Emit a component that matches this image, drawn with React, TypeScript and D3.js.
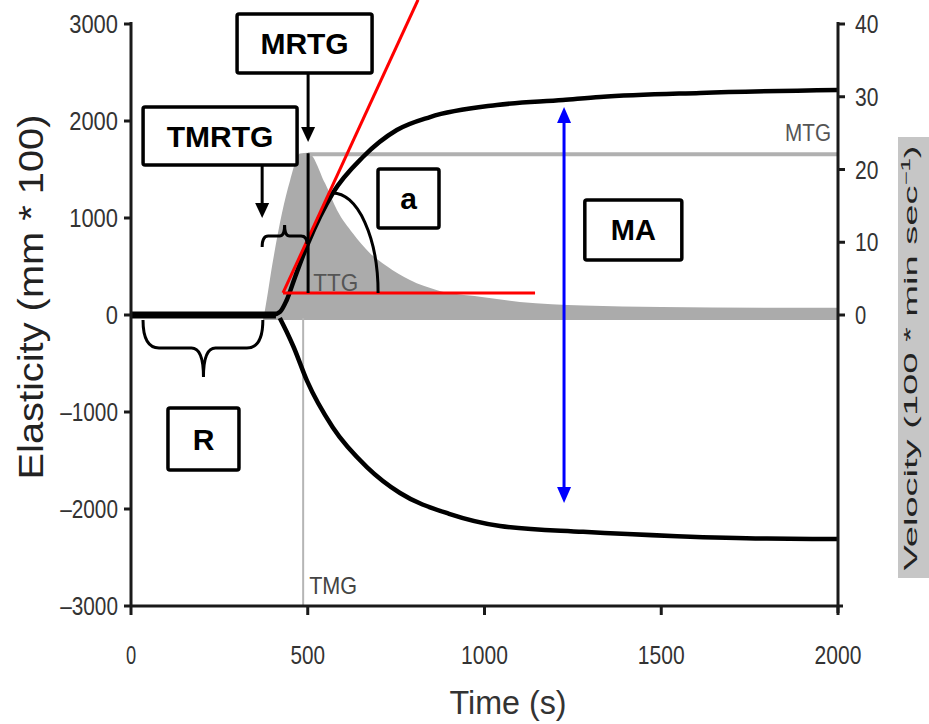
import React from 'react';
import * as d3 from 'd3';

const W = 929, H = 724;

// tick labels
const timeTicks = [0, 500, 1000, 1500, 2000];
const elasticityTicks = [3000, 2000, 1000, 0, -1000, -2000, -3000];
const velocityTicks = [0, 10, 20, 30, 40];

// elasticity curves (upper / lower)
const upperTime = [0, 400, 421, 440, 465, 501, 571, 656, 752, 846, 1035, 1222, 1327, 1610, 2000];
const upperElasticity = [0, 0, 30, 150, 400, 742, 1258, 1629, 1907, 2041, 2165, 2216, 2247, 2289, 2320];
const lowerTime = [421, 440, 460, 498, 571, 668, 761, 900, 1044, 1279, 1545, 1799, 2000];
const lowerElasticity = [-30, -170, -330, -680, -1160, -1570, -1835, -2050, -2175, -2235, -2280, -2305, -2309];

// velocity (gray area)
const velocityTime = [373, 379, 400, 427, 450, 478, 501, 549, 583, 628, 676, 724, 789, 866, 987, 1100, 1280, 1500, 1800, 2000];
const velocityValues = [-0.7, 0.7, 7, 14, 18.5, 22.2, 22.3, 18.1, 14.4, 11.2, 8.5, 6.7, 4.8, 3.4, 2.5, 1.8, 1.3, 1.1, 1.0, 1.0];
const velocityBase = -0.7;
const MTG = 22.1;
const TMG = 487;

// annotation anchors (data coords)
const tangentStart = [430, 227];
const tangentEnd = [812, 3250];
const ttgEnd = 1143;
const mrtgTime = 501;
const arcTop = [571, 1258];
const arcRight = [699, 227];
const maTime = 1225;
const maTop = 2144;
const maBottom = -1938;

const boxes = [
  { label: 'MRTG', t: 491, e: 2799, w: 135, h: 59, fs: 30 },
  { label: 'TMRTG', t: 252, e: 1845, w: 154, h: 58, fs: 30 },
  { label: 'a', t: 785, e: 1201, w: 61, h: 59, fs: 30 },
  { label: 'MA', t: 1421, e: 876, w: 97, h: 60, fs: 29 },
  { label: 'R', t: 205, e: -1278, w: 71, h: 62, fs: 30 },
];

const sans = "'Liberation Sans', Arial, sans-serif";

function tickLen(s: string) {
  let w = 0;
  for (const c of s) w += c === '\u2013' ? 9 : 12.2;
  return w;
}

export default function App() {
  const x = d3.scaleLinear().domain([0, 2000]).range([131, 838]);
  const yE = d3.scaleLinear().domain([-3000, 3000]).range([606, 24]);
  const yV = d3.scaleLinear().domain([-40, 40]).range([606, 24]);

  const upper = upperTime.map((t, i) => [t, upperElasticity[i]] as [number, number]);
  const lower = lowerTime.map((t, i) => [t, lowerElasticity[i]] as [number, number]);
  const vel = velocityTime.map((t, i) => [t, velocityValues[i]] as [number, number]);

  const eLine = d3.line<[number, number]>().x(d => x(d[0])).y(d => yE(d[1])).curve(d3.curveMonotoneX);
  const vArea = d3.area<[number, number]>().x(d => x(d[0])).y0(yV(velocityBase)).y1(d => yV(d[1])).curve(d3.curveMonotoneX);

  const x0 = x(0), x1 = x(2000), yTop = yE(3000), yBot = yE(-3000);

  const bL = x(371), bR = x(498), bY = yE(814), bM = (bL + bR) / 2;
  const smallBrace = `M${bL},${bY + 11} Q${bL},${bY} ${bL + 6},${bY} L${bM - 5},${bY} Q${bM},${bY} ${bM},${bY - 11} Q${bM},${bY} ${bM + 5},${bY} L${bR - 6},${bY} Q${bR},${bY} ${bR},${bY + 8}`;
  const rL = x(34), rR = x(373), rTop = yE(-52), rMid = yE(-340), rPt = yE(-640), rM = x(205);
  const rBrace = `M${rL},${rTop} Q${rL},${rMid} ${rL + 16},${rMid} L${rM - 12},${rMid} Q${rM},${rMid} ${rM},${rPt} Q${rM},${rMid} ${rM + 12},${rMid} L${rR - 16},${rMid} Q${rR},${rMid} ${rR},${rTop}`;

  const arcRx = x(arcRight[0]) - x(arcTop[0]);
  const arcRy = yE(arcRight[1]) - yE(arcTop[1]);
  const arcPath = `M${x(arcTop[0])},${yE(arcTop[1])} A${arcRx},${arcRy} 0 0 1 ${x(arcRight[0])},${yE(arcRight[1])}`;

  const arrowDown = (ax: number, y1: number, y2: number, color: string, key: string, hw = 7, hl = 15) => (
    <g key={key}>
      <line x1={ax} x2={ax} y1={y1} y2={y2 - hl + 2} stroke={color} strokeWidth={3} />
      <path d={`M${ax - hw},${y2 - hl} L${ax + hw},${y2 - hl} L${ax},${y2} Z`} fill={color} />
    </g>
  );

  const mrtgBox = boxes[0], tmrtgBox = boxes[1];
  const maX = x(maTime);

  const eLabel = (v: number) => (v < 0 ? '\u2013' + Math.abs(v) : String(v));

  return (
    <svg width={W} height={H} style={{ position: 'absolute', left: 0, top: 0, background: '#fff' }}>
      <rect width={W} height={H} fill="#fff" />
      {/* velocity gray area */}
      <path d={vArea(vel) || ''} fill="#ababab" />
      <line x1={x(mrtgTime)} x2={x1} y1={yV(MTG)} y2={yV(MTG)} stroke="#b0b0b0" strokeWidth={4} />
      <text x={x1 - 7} y={yV(MTG) - 13} fontFamily={sans} fontSize={23} fill="#555" textAnchor="end" textLength={46} lengthAdjust="spacingAndGlyphs">MTG</text>
      {/* TMG */}
      <line x1={x(TMG)} x2={x(TMG)} y1={yE(-30)} y2={yBot} stroke="#b5b5b5" strokeWidth={2} />
      <text x={x(TMG) + 6} y={yE(-2880)} fontFamily={sans} fontSize={24} fill="#444" textLength={48} lengthAdjust="spacingAndGlyphs">TMG</text>
      <text x={x(TMG) + 10} y={yE(250)} fontFamily={sans} fontSize={24} fill="#555" textLength={45} lengthAdjust="spacingAndGlyphs">TTG</text>

      {/* elasticity curves */}
      <line x1={x0} x2={x(410)} y1={yE(0)} y2={yE(0)} stroke="#000" strokeWidth={7} />
      <path d={eLine(upper) || ''} fill="none" stroke="#000" strokeWidth={4.5} />
      <path d={eLine(lower) || ''} fill="none" stroke="#000" strokeWidth={4.5} />

      {/* red tangent + baseline */}
      <line x1={x(tangentStart[0])} y1={yE(tangentStart[1])} x2={x(tangentEnd[0])} y2={yE(tangentEnd[1])} stroke="#ff0000" strokeWidth={3} />
      <line x1={x(tangentStart[0])} y1={yE(tangentStart[1])} x2={x(ttgEnd)} y2={yE(tangentStart[1])} stroke="#ff0000" strokeWidth={3} />
      <line x1={x(mrtgTime)} x2={x(mrtgTime)} y1={yV(MTG) - 1} y2={yE(227)} stroke="#000" strokeWidth={3} />
      <path d={arcPath} fill="none" stroke="#000" strokeWidth={3} />
      <path d={smallBrace} fill="none" stroke="#000" strokeWidth={3} />
      <path d={rBrace} fill="none" stroke="#000" strokeWidth={3} />

      {/* axes */}
      <line x1={x0} x2={x0} y1={yTop - 2} y2={yBot + 1} stroke="#1a1a1a" strokeWidth={3} />
      <line x1={x0 - 1} x2={x1 + 5} y1={yBot} y2={yBot} stroke="#1a1a1a" strokeWidth={3} />
      <line x1={x1} x2={x1} y1={yTop - 2} y2={yBot + 7} stroke="#1a1a1a" strokeWidth={3} />
      {elasticityTicks.map(v => (
        <g key={'e' + v}>
          <line x1={x0 - 7} x2={x0} y1={yE(v)} y2={yE(v)} stroke="#1a1a1a" strokeWidth={3} />
          <text x={x0 - 13} y={yE(v) + 9} textAnchor="end" fontFamily={sans} fontSize={25} fill="#333"
            textLength={tickLen(eLabel(v))} lengthAdjust="spacingAndGlyphs">{eLabel(v)}</text>
        </g>
      ))}
      {timeTicks.map(v => (
        <g key={'t' + v}>
          <line x1={x(v)} x2={x(v)} y1={yBot} y2={yBot + 9} stroke="#1a1a1a" strokeWidth={3} />
          <text x={x(v)} y={yBot + 58} textAnchor="middle" fontFamily={sans} fontSize={25} fill="#333"
            textLength={tickLen(String(v)) - 2} lengthAdjust="spacingAndGlyphs">{v}</text>
        </g>
      ))}
      {velocityTicks.map(v => (
        <g key={'v' + v}>
          <line x1={x1} x2={x1 + 7} y1={yV(v)} y2={yV(v)} stroke="#1a1a1a" strokeWidth={3} />
          <text x={x1 + 17} y={yV(v) + 9} fontFamily={sans} fontSize={25} fill="#333"
            textLength={tickLen(String(v)) - 1} lengthAdjust="spacingAndGlyphs">{v}</text>
        </g>
      ))}

      {/* axis titles */}
      <text transform="translate(43,297) rotate(-90)" textAnchor="middle" fontFamily={sans} fontSize={35} fill="#222"
        textLength={365} lengthAdjust="spacingAndGlyphs">Elasticity (mm * 100)</text>
      <text x={508} y={714} textAnchor="middle" fontFamily={sans} fontSize={33} fill="#333"
        textLength={117} lengthAdjust="spacingAndGlyphs">Time (s)</text>
      <rect x={898} y={137} width={31} height={441} fill="#c6c6c6" />
      <text transform="translate(917,358) rotate(-90)" textAnchor="middle" fontFamily={sans} fontSize={19} fill="#222"
        textLength={425} lengthAdjust="spacingAndGlyphs">Velocity (100 * min sec<tspan dy={-7} fontSize={12}>−1</tspan><tspan dy={7}>)</tspan></text>

      {/* arrows */}
      {arrowDown(x(mrtgTime), yE(mrtgBox.e) + mrtgBox.h / 2, yE(1784), '#000', 'a1')}
      {arrowDown(x(371), yE(tmrtgBox.e) + tmrtgBox.h / 2, yE(1000), '#000', 'a2')}
      <line x1={maX} x2={maX} y1={yE(maTop) + 14} y2={yE(maBottom) - 14} stroke="#0000ff" strokeWidth={3} />
      <path d={`M${maX - 7},${yE(maTop) + 16} L${maX + 7},${yE(maTop) + 16} L${maX},${yE(maTop)} Z`} fill="#0000ff" />
      <path d={`M${maX - 7},${yE(maBottom) - 16} L${maX + 7},${yE(maBottom) - 16} L${maX},${yE(maBottom)} Z`} fill="#0000ff" />

      {/* label boxes */}
      {boxes.map(b => (
        <g key={b.label}>
          <rect x={x(b.t) - b.w / 2} y={yE(b.e) - b.h / 2} width={b.w} height={b.h} rx={2} fill="#fff" stroke="#000" strokeWidth={3.5} />
          <text x={x(b.t)} y={yE(b.e) + b.fs * 0.36} textAnchor="middle" fontFamily={sans} fontWeight="bold" fontSize={b.fs} fill="#000">{b.label}</text>
        </g>
      ))}
    </svg>
  );
}
